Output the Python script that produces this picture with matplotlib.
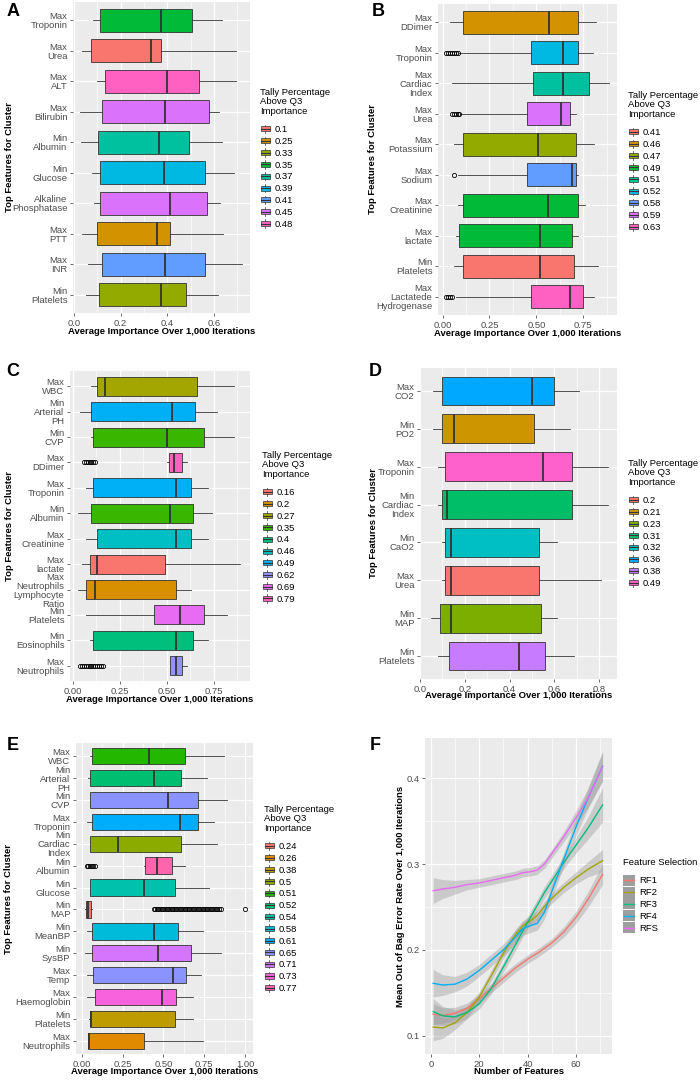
import matplotlib
matplotlib.use('Agg')
import matplotlib.pyplot as plt
from matplotlib.patches import Rectangle, Patch
from matplotlib.lines import Line2D
from matplotlib.legend_handler import HandlerBase
from matplotlib.ticker import MultipleLocator, FormatStrFormatter

plt.rcParams['font.family'] = ['Liberation Sans', 'DejaVu Sans']

W, H = 700, 1081
BG = '#EBEBEB'
DARK = '#333333'
TXT = '#4D4D4D'
FS = 6.8

# ggplot default hue palettes
HUE5 = ['#F8766D', '#A3A500', '#00BF7D', '#00B0F6', '#E76BF3']
HUE8 = ['#F8766D', '#CD9600', '#7CAE00', '#00BE67', '#00BFC4', '#00A9FF', '#C77CFF', '#FF61CC']
HUE9 = ['#F8766D', '#D39200', '#93AA00', '#00BA38', '#00C19F', '#00B9E3', '#619CFF', '#DB72FB', '#FF61C3']
HUE10 = ['#F8766D', '#D89000', '#A3A500', '#39B600', '#00BF7D', '#00BFC4', '#00B0F6', '#9590FF', '#E76BF3', '#FF62BC']
HUE13 = ['#F8766D', '#E18A00', '#BE9C00', '#8CAB00', '#24B700', '#00BE70', '#00C1AB', '#00BBDA', '#00ACFC',
         '#8B93FF', '#D575FE', '#F962DD', '#FF65AC']

# ---------- panel A ----------
a_labels = ['Max\nTroponin', 'Max\nUrea', 'Max\nALT', 'Max\nBilirubin', 'Min\nAlbumin', 'Min\nGlucose',
            'Alkaline\nPhosphatase', 'Max\nPTT', 'Max\nINR', 'Min\nPlatelets']
a_lo = [0.080, 0.033, 0.097, 0.026, 0.031, 0.076, 0.087, 0.033, 0.061, 0.050]
a_q1 = [0.109, 0.074, 0.131, 0.120, 0.101, 0.113, 0.109, 0.100, 0.119, 0.106]
a_med = [0.371, 0.329, 0.397, 0.390, 0.366, 0.384, 0.410, 0.357, 0.390, 0.373]
a_q3 = [0.506, 0.371, 0.536, 0.579, 0.494, 0.563, 0.571, 0.413, 0.563, 0.479]
a_hi = [0.636, 0.693, 0.697, 0.621, 0.633, 0.687, 0.627, 0.640, 0.720, 0.619]
a_group = [0.35, 0.1, 0.48, 0.45, 0.37, 0.39, 0.45, 0.25, 0.41, 0.33]
a_levels = [0.1, 0.25, 0.33, 0.35, 0.37, 0.39, 0.41, 0.45, 0.48]
a_fliers = {}

# ---------- panel B ----------
b_labels = ['Max\nDDimer', 'Max\nTroponin', 'Max\nCardiac\nIndex', 'Max\nUrea', 'Max\nPotassium', 'Max\nSodium',
            'Max\nCreatinine', 'Max\nlactate', 'Min\nPlatelets', 'Max\nLactatede\nHydrogenase']
b_lo = [0.04, 0.09, 0.05, 0.10, 0.06, 0.08, 0.08, 0.07, 0.06, 0.07]
b_q1 = [0.11, 0.47, 0.48, 0.45, 0.11, 0.45, 0.11, 0.09, 0.11, 0.47]
b_med = [0.57, 0.64, 0.64, 0.63, 0.51, 0.69, 0.56, 0.52, 0.52, 0.68]
b_q3 = [0.72, 0.72, 0.78, 0.68, 0.71, 0.71, 0.72, 0.69, 0.70, 0.75]
b_hi = [0.82, 0.80, 0.89, 0.71, 0.81, 0.72, 0.76, 0.72, 0.83, 0.81]
b_group = [0.46, 0.52, 0.51, 0.59, 0.47, 0.58, 0.49, 0.49, 0.41, 0.63]
b_levels = [0.41, 0.46, 0.47, 0.49, 0.51, 0.52, 0.58, 0.59, 0.63]
b_fliers = {1: [0.02, 0.03, 0.04, 0.05, 0.06, 0.07, 0.08],
            3: [0.05, 0.06, 0.07, 0.08, 0.09],
            5: [0.06],
            9: [0.02, 0.03, 0.04, 0.05]}

# ---------- panel C ----------
c_labels = ['Max\nWBC', 'Min\nArterial\nPH', 'Min\nCVP', 'Max\nDDimer', 'Max\nTroponin', 'Min\nAlbumin',
            'Max\nCreatinine', 'Max\nlactate', 'Max\nNeutrophils\nLymphocyte\nRatio', 'Min\nPlatelets',
            'Min\nEosinophils', 'Max\nNeutrophils']
c_lo = [0.10, 0.04, 0.10, 0.50, 0.07, 0.03, 0.07, 0.05, 0.03, 0.07, 0.09, 0.52]
c_q1 = [0.13, 0.10, 0.11, 0.51, 0.11, 0.10, 0.13, 0.09, 0.07, 0.43, 0.11, 0.52]
c_med = [0.17, 0.53, 0.50, 0.54, 0.55, 0.52, 0.55, 0.13, 0.12, 0.57, 0.55, 0.55]
c_q3 = [0.66, 0.65, 0.70, 0.58, 0.63, 0.64, 0.63, 0.49, 0.55, 0.70, 0.64, 0.58]
c_hi = [0.86, 0.77, 0.86, 0.61, 0.72, 0.74, 0.72, 0.89, 0.63, 0.82, 0.72, 0.61]
c_group = [0.27, 0.49, 0.35, 0.79, 0.49, 0.35, 0.46, 0.16, 0.2, 0.69, 0.4, 0.62]
c_levels = [0.16, 0.2, 0.27, 0.35, 0.4, 0.46, 0.49, 0.62, 0.69, 0.79]
c_fliers = {3: [0.06, 0.07, 0.08, 0.09, 0.10, 0.11, 0.12],
            11: [0.04, 0.05, 0.06, 0.07, 0.08, 0.09, 0.10, 0.11, 0.12, 0.13, 0.14, 0.15, 0.16]}

# ---------- panel D ----------
d_labels = ['Max\nCO2', 'Min\nPO2', 'Max\nTroponin', 'Min\nCardiac\nIndex', 'Min\nCaO2', 'Max\nUrea',
            'Min\nMAP', 'Min\nPlatelets']
d_lo = [0.06, 0.06, 0.08, 0.08, 0.10, 0.10, 0.05, 0.08]
d_q1 = [0.10, 0.10, 0.11, 0.10, 0.11, 0.11, 0.09, 0.13]
d_med = [0.50, 0.15, 0.55, 0.12, 0.14, 0.14, 0.14, 0.44]
d_q3 = [0.60, 0.51, 0.68, 0.68, 0.53, 0.53, 0.54, 0.56]
d_hi = [0.71, 0.67, 0.84, 0.84, 0.61, 0.81, 0.61, 0.69]
d_group = [0.36, 0.21, 0.49, 0.31, 0.32, 0.2, 0.23, 0.38]
d_levels = [0.2, 0.21, 0.23, 0.31, 0.32, 0.36, 0.38, 0.49]
d_fliers = {}

# ---------- panel E ----------
e_labels = ['Max\nWBC', 'Min\nArterial\nPH', 'Min\nCVP', 'Max\nTroponin', 'Min\nCardiac\nIndex', 'Min\nAlbumin',
            'Min\nGlucose', 'Min\nMAP', 'Min\nMeanBP', 'Min\nSysBP', 'Max\nTemp', 'Max\nHaemoglobin',
            'Min\nPlatelets', 'Max\nNeutrophils']
e_lo = [0.05, 0.04, 0.05, 0.03, 0.05, 0.38, 0.05, 0.02, 0.03, 0.02, 0.03, 0.03, 0.045, 0.04]
e_q1 = [0.06, 0.05, 0.05, 0.06, 0.05, 0.39, 0.05, 0.025, 0.06, 0.06, 0.07, 0.08, 0.05, 0.04]
e_med = [0.41, 0.44, 0.53, 0.60, 0.22, 0.46, 0.38, 0.04, 0.44, 0.47, 0.56, 0.49, 0.055, 0.045]
e_q3 = [0.63, 0.61, 0.71, 0.71, 0.61, 0.55, 0.57, 0.055, 0.59, 0.67, 0.64, 0.58, 0.57, 0.38]
e_hi = [0.87, 0.77, 0.89, 0.81, 0.83, 0.63, 0.78, 0.06, 0.74, 0.85, 0.73, 0.68, 0.68, 0.74]
e_group = [0.51, 0.52, 0.65, 0.61, 0.5, 0.77, 0.54, 0.24, 0.58, 0.71, 0.65, 0.73, 0.38, 0.26]
e_levels = [0.24, 0.26, 0.38, 0.5, 0.51, 0.52, 0.54, 0.58, 0.61, 0.65, 0.71, 0.73, 0.77]
e_fliers = {5: [0.03, 0.04, 0.05, 0.06, 0.07, 0.08],
            7: [0.44, 0.45, 0.46, 0.47, 0.48, 0.49, 0.50, 0.51, 0.52, 0.53, 0.54, 0.55, 0.56, 0.57,
                0.58, 0.59, 0.60, 0.61, 0.62, 0.63, 0.64, 0.65, 0.66, 0.67, 0.68, 0.69, 0.70, 0.71,
                0.72, 0.73, 0.74, 0.75, 0.76, 0.77, 0.78, 0.79, 0.80, 0.81, 0.82, 0.83, 0.84, 0.85, 1.00]}

# ---------- panel F ----------
f_x = [1, 5, 10, 15, 20, 25, 30, 35, 38, 41, 44, 47, 50, 55, 60, 65, 71]
f_rf1 = [0.125, 0.1235, 0.126, 0.132, 0.143, 0.155, 0.167, 0.179, 0.185, 0.191, 0.196, 0.202, 0.208, 0.221, 0.238, 0.259, 0.288]
f_rf2 = [0.110, 0.109, 0.115, 0.127, 0.145, 0.170, 0.196, 0.218, 0.228, 0.234, 0.240, 0.251, 0.260, 0.273, 0.284, 0.294, 0.304]
f_rf3 = [0.128, 0.123, 0.122, 0.127, 0.137, 0.155, 0.180, 0.206, 0.222, 0.237, 0.252, 0.267, 0.280, 0.302, 0.322, 0.342, 0.369]
f_rf4 = [0.161, 0.159, 0.160, 0.166, 0.176, 0.188, 0.200, 0.215, 0.225, 0.228, 0.231, 0.244, 0.268, 0.306, 0.343, 0.377, 0.414]
f_rfs = [0.269, 0.271, 0.273, 0.276, 0.278, 0.281, 0.284, 0.287, 0.290, 0.291, 0.293, 0.300, 0.312, 0.332, 0.354, 0.377, 0.414]
f_se1 = [0.012, 0.009, 0.007, 0.006, 0.005, 0.005, 0.005, 0.005, 0.005, 0.005, 0.005, 0.005, 0.005, 0.006, 0.007, 0.009, 0.012]
f_se2 = [0.016, 0.012, 0.008, 0.007, 0.006, 0.006, 0.006, 0.006, 0.006, 0.006, 0.006, 0.006, 0.006, 0.006, 0.007, 0.009, 0.013]
f_se3 = [0.015, 0.011, 0.008, 0.007, 0.006, 0.006, 0.006, 0.007, 0.007, 0.007, 0.007, 0.007, 0.007, 0.007, 0.009, 0.013, 0.020]
f_se4 = [0.016, 0.012, 0.009, 0.008, 0.007, 0.007, 0.007, 0.008, 0.008, 0.008, 0.008, 0.008, 0.008, 0.008, 0.010, 0.012, 0.017]
f_ses = [0.015, 0.011, 0.008, 0.006, 0.005, 0.005, 0.005, 0.005, 0.005, 0.005, 0.005, 0.005, 0.005, 0.006, 0.008, 0.011, 0.017]
f_names = ['RF1', 'RF2', 'RF3', 'RF4', 'RFS']


class BoxKey(HandlerBase):
    # ggplot style boxplot legend key
    def create_artists(self, legend, orig_handle, xdescent, ydescent, width, height, fontsize, trans):
        x0, y0 = -xdescent, -ydescent
        fc = orig_handle.get_facecolor()
        rect = Rectangle((x0 + 0.05 * width, y0 + 0.2 * height), 0.9 * width, 0.6 * height,
                         facecolor=fc, edgecolor=DARK, linewidth=0.5, transform=trans)
        med = Line2D([x0 + 0.05 * width, x0 + 0.95 * width], [y0 + 0.5 * height] * 2,
                     color=DARK, linewidth=0.8, transform=trans)
        w1 = Line2D([x0 + 0.5 * width] * 2, [y0, y0 + 0.2 * height], color=DARK, linewidth=0.5, transform=trans)
        w2 = Line2D([x0 + 0.5 * width] * 2, [y0 + 0.8 * height, y0 + height], color=DARK, linewidth=0.5,
                    transform=trans)
        return [rect, med, w1, w2]


class SmoothKey(HandlerBase):
    def create_artists(self, legend, orig_handle, xdescent, ydescent, width, height, fontsize, trans):
        x0, y0 = -xdescent, -ydescent
        rect = Rectangle((x0, y0 - 0.15 * height), width, 1.3 * height, facecolor='#9E9E9E',
                         edgecolor='none', transform=trans)
        ln = Line2D([x0 + 0.1 * width, x0 + 0.9 * width], [y0 + 0.5 * height] * 2,
                    color=orig_handle.get_color(), linewidth=1.0, transform=trans)
        return [rect, ln]


fig = plt.figure(figsize=(W / 100, H / 100), dpi=100)


def add_ax(l, t, r, b):
    return fig.add_axes([l / W, 1 - b / H, (r - l) / W, (b - t) / H])


def style_ax(ax, box, ylab_x, xlab_y, xlabel, ylabel):
    l, t, r, b = box
    ax.set_facecolor(BG)
    for s in ax.spines.values():
        s.set_visible(False)
    ax.set_axisbelow(True)
    ax.grid(which='major', color='white', linewidth=0.9)
    ax.grid(which='minor', axis='x', color='white', linewidth=0.45)
    ax.tick_params(which='major', length=2.5, width=0.5, color=DARK, labelsize=FS, labelcolor=TXT, pad=1.5)
    ax.tick_params(which='minor', length=0)
    ax.set_xlabel(xlabel, fontsize=FS, fontweight='bold', va='center')
    ax.xaxis.set_label_coords(0.5, (b - xlab_y) / (b - t))
    ax.set_ylabel(ylabel, fontsize=FS, fontweight='bold', va='center')
    ax.yaxis.set_label_coords((ylab_x - l) / (r - l), 0.5)


def box_panel(box, labels, lo, q1, med, q3, hi, group, levels, palette, fliers,
              xlim, major, fmt, ylab_x, xlab_y, leg_xy, letter, letter_xy):
    ax = add_ax(*box)
    n = len(labels)
    pos = list(range(n - 1, -1, -1))
    stats = [dict(whislo=lo[i], q1=q1[i], med=med[i], q3=q3[i], whishi=hi[i], fliers=fliers.get(i, []))
             for i in range(n)]
    bp = ax.bxp(stats, positions=pos, widths=0.75, orientation='horizontal', patch_artist=True,
                showcaps=False,
                boxprops=dict(edgecolor=DARK, linewidth=0.6),
                medianprops=dict(color=DARK, linewidth=1.3),
                whiskerprops=dict(color=DARK, linewidth=0.6),
                flierprops=dict(marker='o', markerfacecolor='none', markeredgecolor='black',
                                markersize=3.0, markeredgewidth=0.6))
    for patch, g in zip(bp['boxes'], group):
        patch.set_facecolor(palette[levels.index(g)])
    ax.set_ylim(-0.6, n - 0.4)
    ax.set_yticks(pos)
    ax.set_yticklabels(labels, linespacing=1.0, color='#333333')
    ax.set_xlim(*xlim)
    ax.xaxis.set_major_locator(MultipleLocator(major))
    ax.xaxis.set_minor_locator(MultipleLocator(major / 2))
    ax.xaxis.set_major_formatter(FormatStrFormatter(fmt))
    style_ax(ax, box, ylab_x, xlab_y, 'Average Importance Over 1,000 Iterations', 'Top Features for Cluster')

    handles = [Patch(facecolor=palette[k]) for k in range(len(levels))]
    leg = fig.legend(handles, [f'{v:g}' for v in levels], loc='upper left',
                     bbox_to_anchor=(leg_xy[0] / W, 1 - leg_xy[1] / H), frameon=False, fontsize=FS,
                     title='Tally Percentage\nAbove Q3\nImportance', title_fontsize=FS, alignment='left',
                     handler_map={Patch: BoxKey()}, handlelength=1.1, handleheight=1.0,
                     labelspacing=0.25, handletextpad=0.5, borderpad=0, borderaxespad=0)
    leg.get_title().set_linespacing(1.05)
    leg._legend_box.sep = 6.5
    fig.text(letter_xy[0] / W, 1 - letter_xy[1] / H, letter, fontsize=13, fontweight='bold',
             ha='center', va='center')
    return ax


box_panel((73, 2, 250, 313), a_labels, a_lo, a_q1, a_med, a_q3, a_hi, a_group, a_levels, HUE9, a_fliers,
          (-0.005, 0.755), 0.2, '%.1f', 9, 332, (260, 88), 'A', (13, 11))
box_panel((438, 4, 617, 315), b_labels, b_lo, b_q1, b_med, b_q3, b_hi, b_group, b_levels, HUE9, b_fliers,
          (-0.024, 0.93), 0.25, '%.2f', 373, 333, (628, 91), 'B', (378, 11))
box_panel((70, 371, 250, 681), c_labels, c_lo, c_q1, c_med, c_q3, c_hi, c_group, c_levels, HUE10, c_fliers,
          (-0.014, 0.943), 0.25, '%.2f', 9, 700, (262, 451), 'C', (13, 372))
box_panel((420, 368, 617, 679), d_labels, d_lo, d_q1, d_med, d_q3, d_hi, d_group, d_levels, HUE8, d_fliers,
          (0.0, 0.88), 0.2, '%.1f', 374, 696, (628, 459), 'D', (375, 372))
box_panel((76, 743, 253, 1054), e_labels, e_lo, e_q1, e_med, e_q3, e_hi, e_group, e_levels, HUE13, e_fliers,
          (-0.035, 1.049), 0.25, '%.2f', 9, 1072, (264, 805), 'E', (13, 745))

# ---------- panel F ----------
f_box = (425, 738, 612, 1054)
axf = add_ax(*f_box)
series = [f_rf1, f_rf2, f_rf3, f_rf4, f_rfs]
ses = [f_se1, f_se2, f_se3, f_se4, f_ses]
lines = []
for ys, se in zip(series, ses):
    lo = [y - s for y, s in zip(ys, se)]
    hi = [y + s for y, s in zip(ys, se)]
    axf.fill_between(f_x, lo, hi, color='#999999', alpha=0.4, linewidth=0)
for ys, c in zip(series, HUE5):
    ln, = axf.plot(f_x, ys, color=c, linewidth=1.0)
    lines.append(ln)
axf.set_xlim(-2.4, 74.9)
axf.set_ylim(0.0786, 0.447)
axf.xaxis.set_major_locator(MultipleLocator(20))
axf.xaxis.set_minor_locator(MultipleLocator(10))
axf.yaxis.set_major_locator(MultipleLocator(0.1))
axf.yaxis.set_minor_locator(MultipleLocator(0.05))
axf.yaxis.set_major_formatter(FormatStrFormatter('%.1f'))
style_ax(axf, f_box, 401, 1072, 'Number of Features', 'Mean Out of Bag Error Rate Over 1,000 Iterations')
axf.grid(which='minor', axis='y', color='white', linewidth=0.45)
legf = fig.legend(lines, f_names, loc='upper left', bbox_to_anchor=(623 / W, 1 - 858 / H), frameon=False,
                  fontsize=FS, title='Feature Selection', title_fontsize=FS, alignment='left',
                  handler_map={Line2D: SmoothKey()}, handlelength=1.3, handleheight=1.0,
                  labelspacing=0.25, handletextpad=0.45, borderpad=0, borderaxespad=0)
legf._legend_box.sep = 6.5
fig.text(375 / W, 1 - 745 / H, 'F', fontsize=13, fontweight='bold', ha='center', va='center')

fig.savefig('out.png', dpi=100, facecolor='white')
